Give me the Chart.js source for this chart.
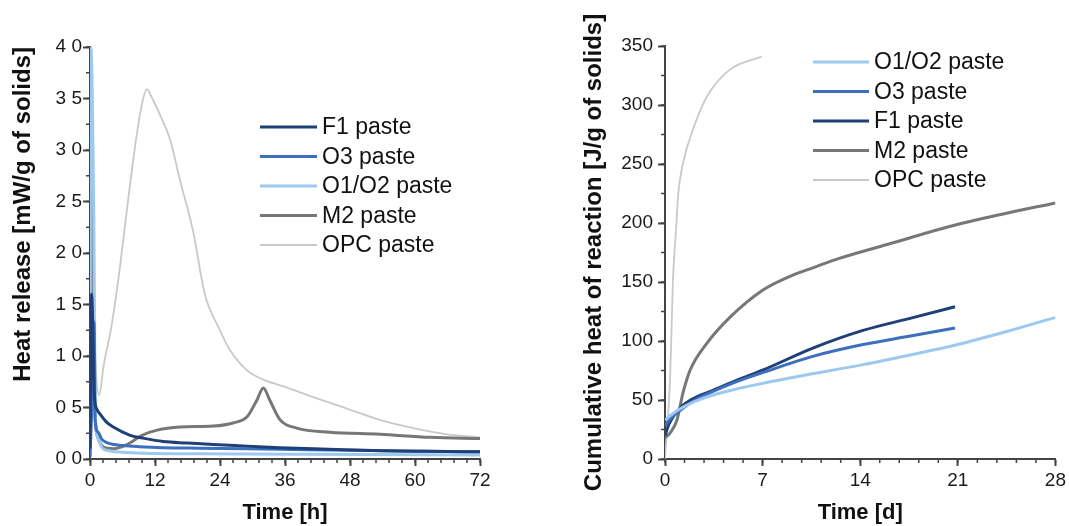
<!DOCTYPE html>
<html>
<head>
<meta charset="utf-8">
<script src="https://cdn.jsdelivr.net/npm/chart.js@4.4.1/dist/chart.umd.min.js"></script>
<style>
  body { margin: 0; background: #fff; }
  #wrap { position: relative; width: 1069px; height: 526px; }
  #heatChart { position: absolute; left: 0; top: 0; }
  #cumChart { position: absolute; left: 535px; top: 0; }
</style>
</head>
<body>
<div id="wrap">
  <canvas id="heatChart" width="535" height="526"></canvas>
  <canvas id="cumChart" width="534" height="526"></canvas>
</div>
<script>
// ---- Heat release (time in hours, mW/g of solids) ----
const hF1Time = [0, 0.3, 0.8, 1.3, 1.8, 3, 4.3, 7.4, 10, 13.5, 18, 22.8, 29, 35, 44, 53.5, 62, 72];
const hF1Val  = [0.1, 1.6, 0.62, 0.48, 0.44, 0.36, 0.31, 0.23, 0.2, 0.17, 0.155, 0.14, 0.125, 0.11, 0.095, 0.08, 0.075, 0.07];

const hO3Time = [0, 0.4, 0.75, 0.95, 1.5, 2.2, 3.1, 4.5, 6.1, 9, 13.5, 20, 29, 40, 55, 72];
const hO3Val  = [0.02, 0.6, 1.33, 0.38, 0.26, 0.19, 0.16, 0.14, 0.13, 0.12, 0.11, 0.105, 0.1, 0.09, 0.08, 0.07];

const hO12Time = [0, 0.15, 0.7, 1.0, 1.5, 2.2, 3.5, 6, 10, 20, 40, 72];
const hO12Val  = [0.02, 4.0, 2.35, 0.4, 0.2, 0.11, 0.08, 0.065, 0.055, 0.05, 0.045, 0.04];

const hM2Time = [0, 0.15, 0.4, 0.7, 1.0, 1.5, 2.2, 3.2, 4.4, 6, 7.5, 9.6, 12.4, 16.6, 22.8, 26.4, 29, 30.8, 32, 33.2, 35.1, 38.2, 44.3, 53.5, 62.8, 72];
const hM2Val  = [0.3, 3.2, 2.0, 0.8, 0.35, 0.2, 0.13, 0.105, 0.1, 0.12, 0.16, 0.23, 0.28, 0.31, 0.32, 0.35, 0.41, 0.57, 0.69, 0.57, 0.38, 0.3, 0.26, 0.24, 0.21, 0.2];

const hOPCTime = [0, 0.4, 0.9, 1.7, 2.5, 4, 5.5, 7, 8.5, 9.6, 10.5, 11.5, 13.2, 14.8, 16.6, 19, 21.2, 24, 25.8, 29, 32, 36, 41.2, 47.4, 53.5, 59.7, 65.9, 72];
const hOPCVal  = [4.0, 2.2, 1.1, 0.62, 0.9, 1.3, 1.85, 2.5, 3.1, 3.45, 3.59, 3.5, 3.31, 3.1, 2.71, 2.22, 1.6, 1.25, 1.06, 0.86, 0.77, 0.7, 0.6, 0.49, 0.38, 0.3, 0.24, 0.21];

// ---- Cumulative heat (time in days, J/g of solids) ----
const cO12Time = [0, 0.3, 1, 2, 3.4, 5, 6.95, 10, 14.2, 17.5, 21, 24.5, 28];
const cO12Val  = [33, 36, 42, 48, 54, 59, 64, 71, 80, 88, 97, 108, 120];

const cO3Time = [0, 0.3, 1.07, 2, 3.4, 5, 6.95, 10.6, 14.2, 17.5, 20.8];
const cO3Val  = [28, 33, 41, 49, 57, 65, 73, 87, 97, 104, 111];

const cF1Time = [0, 0.3, 1.07, 2, 3.4, 5, 6.95, 10.6, 14.2, 17.5, 20.8];
const cF1Val  = [20, 30, 43, 51, 58, 66, 75, 94, 109, 119, 129];

const cM2Time = [0, 0.36, 0.86, 1.29, 1.79, 3, 4.65, 7, 9, 10.6, 12.5, 16.3, 20.4, 24, 28];
const cM2Val  = [18, 22, 33, 56, 75, 98, 120, 143, 155, 162, 170, 183, 197, 207, 217];

const cOPCTime = [0, 0.15, 0.36, 0.47, 0.57, 0.68, 0.79, 0.93, 1.3, 2, 3, 4.65, 6.92];
const cOPCVal  = [0, 25, 67, 110, 152, 175, 194, 222, 251, 279, 307, 330, 341];

const colF1 = "#1f3f77";
const colO3 = "#3d6fbf";
const colO12 = "#9ec9ee";
const colM2 = "#777777";
const colOPC = "#c9c9c9";

Chart.defaults.font.family = '"Liberation Sans", Arial, sans-serif';
Chart.defaults.color = "#1a1a1a";

function pts(xs, ys) {
  return xs.map((x, i) => ({ x: x, y: ys[i] }));
}

function series(label, xs, ys, color, width) {
  return {
    label: label,
    data: pts(xs, ys),
    borderColor: color,
    backgroundColor: color,
    borderWidth: width,
    pointRadius: 0,
    cubicInterpolationMode: "monotone",
    fill: false,
  };
}

// short minor tick marks on both axes
const minorTicks = {
  id: "minorTicks",
  afterDraw(chart, args, opts) {
    const ctx = chart.ctx;
    const xs = chart.scales.x, ys = chart.scales.y;
    ctx.save();
    ctx.strokeStyle = "#444";
    ctx.lineWidth = 1.5;
    ctx.beginPath();
    const nx = Math.round((xs.max - xs.min) / opts.x);
    for (let i = 0; i <= nx; i++) {
      const px = xs.getPixelForValue(xs.min + i * opts.x);
      ctx.moveTo(px, ys.bottom);
      ctx.lineTo(px, ys.bottom + 4);
    }
    const ny = Math.round((ys.max - ys.min) / opts.y);
    for (let i = 0; i <= ny; i++) {
      const py = ys.getPixelForValue(ys.min + i * opts.y);
      ctx.moveTo(xs.left, py);
      ctx.lineTo(xs.left - 4, py);
    }
    ctx.stroke();
    ctx.restore();
  },
};

// legend with line samples, placed inside the plot
const lineLegend = {
  id: "lineLegend",
  afterDraw(chart, args, opts) {
    const ctx = chart.ctx;
    ctx.save();
    ctx.font = "23px " + Chart.defaults.font.family;
    ctx.textBaseline = "middle";
    chart.data.datasets.forEach((ds, i) => {
      const y = opts.y + i * opts.gap;
      ctx.strokeStyle = ds.borderColor;
      ctx.lineWidth = ds.borderWidth;
      ctx.beginPath();
      ctx.moveTo(opts.x, y);
      ctx.lineTo(opts.x + opts.len, y);
      ctx.stroke();
      ctx.fillStyle = "#111";
      ctx.fillText(ds.label, opts.x + opts.len + 5, y + 1);
    });
    ctx.restore();
  },
};

function axis(o) {
  return {
    type: "linear",
    min: o.min,
    max: o.max,
    afterFit: o.fit,
    border: { color: "#444", width: 2 },
    grid: {
      drawOnChartArea: false,
      drawTicks: true,
      tickLength: 7,
      tickColor: "#444",
      tickWidth: 2,
    },
    ticks: {
      stepSize: o.step,
      padding: o.pad,
      maxRotation: 0,
      autoSkip: false,
      color: "#1a1a1a",
      font: { size: 19 },
      callback: o.cb,
    },
    title: {
      display: true,
      text: o.title,
      align: o.align || "center",
      color: "#111",
      font: { size: o.tsize, weight: "bold" },
      padding: o.tpad,
    },
  };
}

new Chart(document.getElementById("heatChart"), {
  type: "line",
  data: {
    datasets: [
      series("F1 paste", hF1Time, hF1Val, colF1, 3),
      series("O3 paste", hO3Time, hO3Val, colO3, 3),
      series("O1/O2 paste", hO12Time, hO12Val, colO12, 3),
      series("M2 paste", hM2Time, hM2Val, colM2, 3),
      series("OPC paste", hOPCTime, hOPCVal, colOPC, 1.8),
    ],
  },
  options: {
    responsive: false,
    animation: false,
    layout: { padding: { left: 0, top: 47, right: 55, bottom: 0 } },
    plugins: {
      legend: { display: false },
      tooltip: { enabled: false },
      minorTicks: { x: 2.4, y: 0.25 },
      lineLegend: { x: 260, y: 127, gap: 29.5, len: 57 },
    },
    scales: {
      x: axis({
        min: 0, max: 72, step: 12, pad: 3,
        fit: (s) => { s.height = 67; },
        title: "Time [h]", tsize: 22, tpad: { top: 0, bottom: 0 },
      }),
      y: axis({
        min: 0, max: 4, step: 0.5, pad: 1,
        fit: (s) => { s.width = 90; },
        cb: (v) => v.toFixed(1).replace(".", " "),
        title: "Heat release [mW/g of solids]", tsize: 24, align: "end",
        tpad: { top: 9, bottom: 0 },
      }),
    },
  },
  plugins: [minorTicks, lineLegend],
});

new Chart(document.getElementById("cumChart"), {
  type: "line",
  data: {
    datasets: [
      series("O1/O2 paste", cO12Time, cO12Val, colO12, 3),
      series("O3 paste", cO3Time, cO3Val, colO3, 3),
      series("F1 paste", cF1Time, cF1Val, colF1, 3),
      series("M2 paste", cM2Time, cM2Val, colM2, 3),
      series("OPC paste", cOPCTime, cOPCVal, colOPC, 1.8),
    ],
  },
  options: {
    responsive: false,
    animation: false,
    layout: { padding: { left: 0, top: 46, right: 13, bottom: 0 } },
    plugins: {
      legend: { display: false },
      tooltip: { enabled: false },
      minorTicks: { x: 1.4, y: 25 },
      lineLegend: { x: 278, y: 62, gap: 29.5, len: 56 },
    },
    scales: {
      x: axis({
        min: 0, max: 28, step: 7, pad: 3,
        fit: (s) => { s.height = 67; },
        title: "Time [d]", tsize: 22, tpad: { top: 0, bottom: 0 },
      }),
      y: axis({
        min: 0, max: 350, step: 50, pad: 5,
        fit: (s) => { s.width = 130; },
        title: "Cumulative heat of reaction [J/g of solids]", tsize: 24,
        tpad: { top: 45, bottom: 0 },
      }),
    },
  },
  plugins: [minorTicks, lineLegend],
});
</script>
</body>
</html>
